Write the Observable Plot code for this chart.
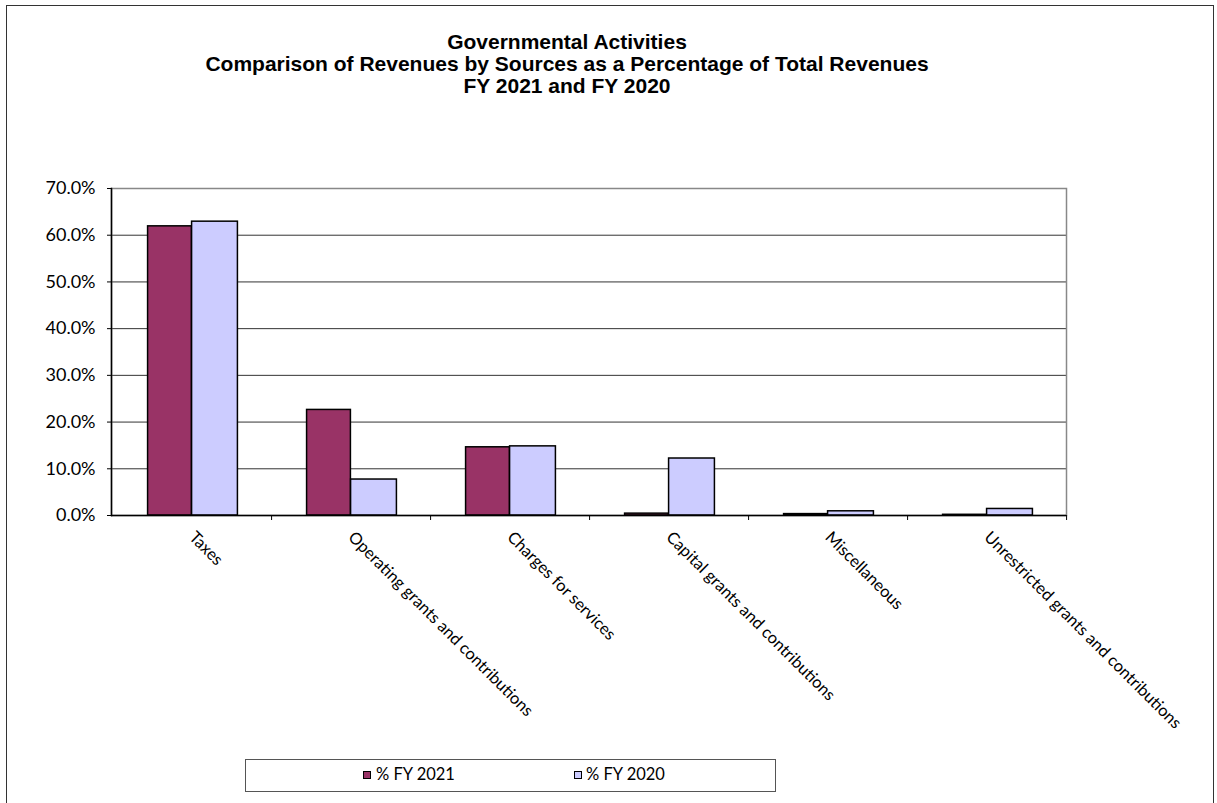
<!DOCTYPE html>
<html><head><meta charset="utf-8">
<script src="https://cdn.jsdelivr.net/npm/d3@7"></script>
<script src="https://cdn.jsdelivr.net/npm/@observablehq/plot@0.6"></script>
<style>
body{margin:0;background:#fff;}
#wrap{position:relative;width:1217px;height:803px;overflow:hidden;font-family:Lato,sans-serif;background:#fff;}
#border{position:absolute;left:6px;top:5px;width:1208px;height:830px;border:1.5px solid #333;box-sizing:border-box;}
#title{position:absolute;left:0;width:1134px;top:31px;text-align:center;font:bold 21px "Liberation Sans",Arial,sans-serif;line-height:22px;color:#000;}
#chart{position:absolute;left:0;top:0;}
#legend{position:absolute;left:245px;top:759px;width:531px;height:33px;border:1.5px solid #555;box-sizing:border-box;background:#fff;}
.sw{position:absolute;top:11px;width:8px;height:8px;border:1.5px solid #000;box-sizing:border-box;}
.lt{position:absolute;top:4px;font:16.5px Lato,sans-serif;color:#000;white-space:nowrap;}
</style></head>
<body><div id="wrap">
<div id="border"></div>
<div id="chart"></div>
<div id="title"></div>
<div id="legend"></div>
</div>
<script>
const titleLines = ["Governmental Activities","Comparison of Revenues by Sources as a Percentage of Total Revenues","FY 2021 and FY 2020"];
const categories = ["Taxes","Operating grants and contributions","Charges for services","Capital grants and contributions","Miscellaneous","Unrestricted grants and contributions"];
const fy2021 = [0.619,0.226,0.146,0.004,0.003,0.0015];
const fy2020 = [0.629,0.077,0.148,0.122,0.009,0.014];
const seriesNames = ["% FY 2021","% FY 2020"];
const seriesColors = ["#993366","#CCCCFF"];
const yTicks = [0,0.1,0.2,0.3,0.4,0.5,0.6,0.7];

document.getElementById("title").innerHTML = titleLines.map(t=>`<div>${t}</div>`).join("");

const d21 = categories.map((c,i)=>({category:c, value:fy2021[i], series:seriesNames[0]}));
const d20 = categories.map((c,i)=>({category:c, value:fy2020[i], series:seriesNames[1]}));

const W = 1217, H = 803;
const mL = 111, mR = 151, mT = 188, mB = 288;
const band = (W - mL - mR) / categories.length;
const bw = 45;
const half = band/2;

const chart = Plot.plot({
  width: W, height: H,
  marginLeft: mL, marginRight: mR, marginTop: mT, marginBottom: mB,
  style: {fontFamily: "Lato, sans-serif", background: "transparent", color: "#000"},
  x: {domain: categories, padding: 0},
  y: {domain: [0, 0.7]},
  color: {domain: seriesNames, range: seriesColors},
  marks: [
    Plot.ruleY(yTicks.slice(1, -1), {stroke: "#333", strokeWidth: 1}),
    Plot.frame({stroke: "#888", strokeWidth: 1.5}),
    Plot.barY(d21, {x: "category", y: "value", fill: "series", stroke: "#000", strokeWidth: 1.5,
      insetLeft: half - bw + 1, insetRight: half}),
    Plot.barY(d20, {x: "category", y: "value", fill: "series", stroke: "#000", strokeWidth: 1.5,
      insetLeft: half, insetRight: half - bw - 1}),
    Plot.frame({anchor: "left", stroke: "#000", strokeWidth: 1.5}),
    Plot.ruleY([0], {stroke: "#000", strokeWidth: 1.5}),
    Plot.ruleX(categories, {x: d => d, dx: half, y1: 0, y2: 0, insetBottom: -5, stroke: "#000", strokeWidth: 1}),
    Plot.axisY({ticks: yTicks, tickFormat: d3.format(".1%"), tickSize: 4, tickPadding: 12, fontSize: 18, stroke: "#000", label: null}),
    Plot.axisX({tickSize: 0, tickRotate: 45, tickPadding: 19, fontSize: 16.5, label: null, textAnchor: "start"})
  ]
});
document.getElementById("chart").appendChild(chart);

const leg = document.getElementById("legend");
const swX = [117, 328], txX = [130, 340];
seriesNames.forEach((s,i)=>{
  const sw = document.createElement("div"); sw.className="sw"; sw.style.left = swX[i]+"px"; sw.style.background = seriesColors[i]; leg.appendChild(sw);
  const t = document.createElement("div"); t.className="lt"; t.style.left = txX[i]+"px"; t.textContent = s; leg.appendChild(t);
});
</script>
</body></html>
